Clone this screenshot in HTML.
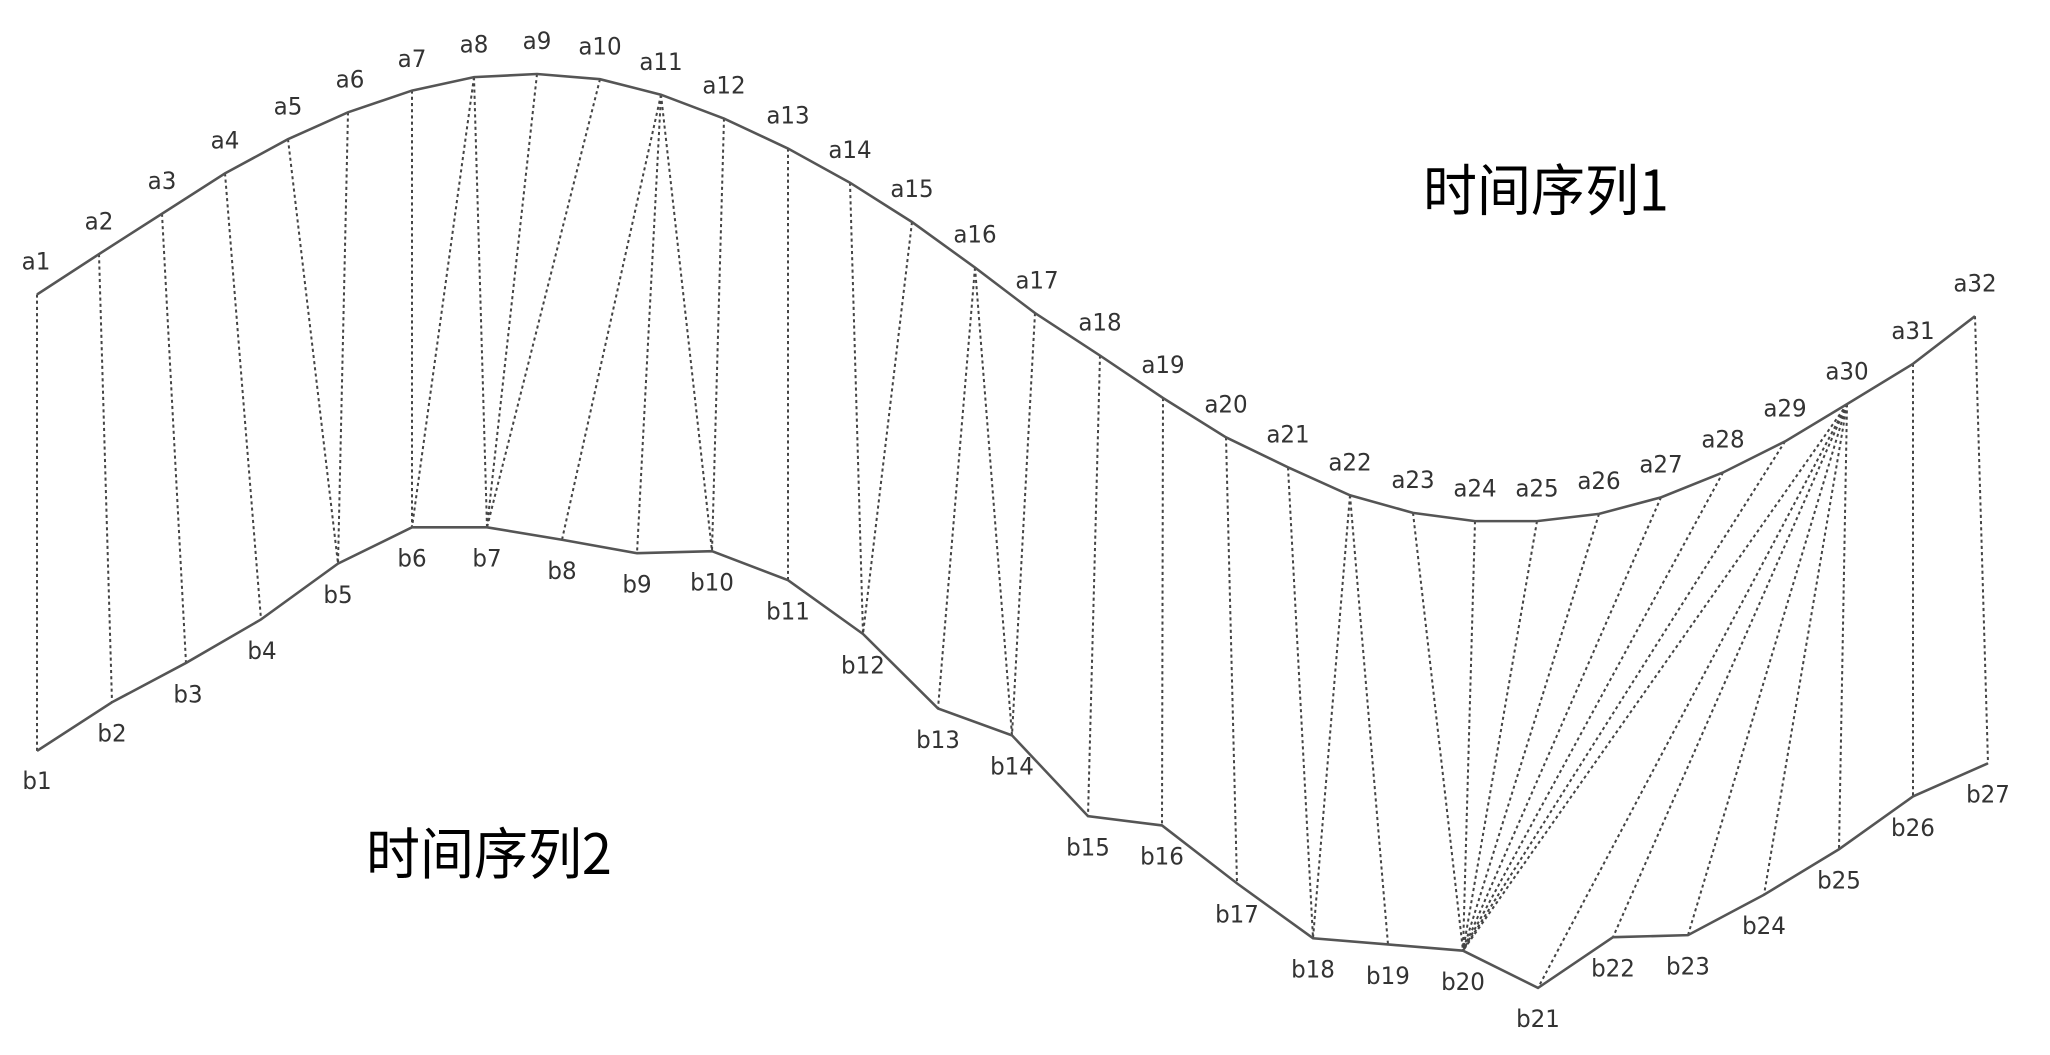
<!DOCTYPE html>
<html><head><meta charset="utf-8"><style>
html,body{margin:0;padding:0;background:#fff;}
svg{display:block;}
text{font-family:"DejaVu Sans","Liberation Sans",sans-serif;font-size:23px;fill:#333;}
.cn{font-family:"WenQuanYi Zen Hei","Noto Sans CJK SC",sans-serif;font-size:54px;fill:#000;}
</style></head><body>
<svg id="s" width="2050" height="1055" viewBox="0 0 2050 1055" xmlns="http://www.w3.org/2000/svg">
<g transform="matrix(1 0 0 1.035 0 -1.54)">
<g id="dash" stroke="#444" stroke-width="2" stroke-dasharray="3,3" fill="none"></g>
<path id="pa" stroke="#555" stroke-width="2.5" fill="none"/>
<path id="pb" stroke="#555" stroke-width="2.5" fill="none"/>
<text class="cn" x="1423" y="205">时间序列1</text>
<text class="cn" x="366" y="846">时间序列2</text>
<text x="36" y="262" text-anchor="middle">a1</text><text x="99" y="223" text-anchor="middle">a2</text><text x="162" y="184" text-anchor="middle">a3</text><text x="225" y="145" text-anchor="middle">a4</text><text x="288" y="112" text-anchor="middle">a5</text><text x="350" y="86" text-anchor="middle">a6</text><text x="412" y="66" text-anchor="middle">a7</text><text x="474" y="52" text-anchor="middle">a8</text><text x="537" y="49" text-anchor="middle">a9</text><text x="600" y="54" text-anchor="middle">a10</text><text x="661" y="69" text-anchor="middle">a11</text><text x="724" y="92" text-anchor="middle">a12</text><text x="788" y="121" text-anchor="middle">a13</text><text x="850" y="154" text-anchor="middle">a14</text><text x="912" y="192" text-anchor="middle">a15</text><text x="975" y="236" text-anchor="middle">a16</text><text x="1037" y="280" text-anchor="middle">a17</text><text x="1100" y="321" text-anchor="middle">a18</text><text x="1163" y="362" text-anchor="middle">a19</text><text x="1226" y="400" text-anchor="middle">a20</text><text x="1288" y="429" text-anchor="middle">a21</text><text x="1350" y="456" text-anchor="middle">a22</text><text x="1413" y="473" text-anchor="middle">a23</text><text x="1475" y="481" text-anchor="middle">a24</text><text x="1537" y="481" text-anchor="middle">a25</text><text x="1599" y="474" text-anchor="middle">a26</text><text x="1661" y="458" text-anchor="middle">a27</text><text x="1723" y="434" text-anchor="middle">a28</text><text x="1785" y="404" text-anchor="middle">a29</text><text x="1847" y="368" text-anchor="middle">a30</text><text x="1913" y="329" text-anchor="middle">a31</text><text x="1975" y="283" text-anchor="middle">a32</text>
<text x="37" y="764" text-anchor="middle">b1</text><text x="112" y="718" text-anchor="middle">b2</text><text x="188" y="680" text-anchor="middle">b3</text><text x="262" y="638" text-anchor="middle">b4</text><text x="338" y="584" text-anchor="middle">b5</text><text x="412" y="549" text-anchor="middle">b6</text><text x="487" y="549" text-anchor="middle">b7</text><text x="562" y="561" text-anchor="middle">b8</text><text x="637" y="574" text-anchor="middle">b9</text><text x="712" y="572" text-anchor="middle">b10</text><text x="788" y="600" text-anchor="middle">b11</text><text x="863" y="652" text-anchor="middle">b12</text><text x="938" y="724" text-anchor="middle">b13</text><text x="1012" y="750" text-anchor="middle">b14</text><text x="1088" y="828" text-anchor="middle">b15</text><text x="1162" y="837" text-anchor="middle">b16</text><text x="1237" y="893" text-anchor="middle">b17</text><text x="1313" y="946" text-anchor="middle">b18</text><text x="1388" y="952" text-anchor="middle">b19</text><text x="1463" y="958" text-anchor="middle">b20</text><text x="1538" y="994" text-anchor="middle">b21</text><text x="1613" y="945" text-anchor="middle">b22</text><text x="1688" y="943" text-anchor="middle">b23</text><text x="1764" y="904" text-anchor="middle">b24</text><text x="1839" y="860" text-anchor="middle">b25</text><text x="1913" y="809" text-anchor="middle">b26</text><text x="1988" y="777" text-anchor="middle">b27</text>
</g>
</svg>
<script>
var A=[[37,286],[99,247],[162,208],[225,169],[288,136],[348,110],[412,89],[474,76],[537,73],[600,78],[661,93],[724,116],[788,145],[850,178],[912,216],[975,260],[1035,304],[1100,345],[1163,386],[1226,424],[1288,453],[1350,480],[1413,497],[1475,505],[1537,505],[1599,498],[1661,482],[1723,458],[1785,428],[1847,392],[1913,353],[1975,307]];
var B=[[37,727],[112,680],[186,642],[261,600],[338,546],[412,511],[487,511],[562,523],[637,536],[712,534],[788,562],[863,614],[938,686],[1012,712],[1088,790],[1162,799],[1237,855],[1313,908],[1388,914],[1463,920],[1538,956],[1613,907],[1688,905],[1764,866],[1839,822],[1913,771],[1988,739]];
var C=[[1,1],[2,2],[3,3],[4,4],[5,5],[6,5],[7,6],[8,6],[8,7],[9,7],[10,7],[11,8],[11,9],[11,10],[12,10],[13,11],[14,12],[15,12],[16,13],[16,14],[17,14],[18,15],[19,16],[20,17],[21,18],[22,18],[22,19],[23,20],[24,20],[25,20],[26,20],[27,20],[28,20],[29,20],[30,20],[30,21],[30,22],[30,23],[30,24],[30,25],[31,26],[32,27]];
var ns="http://www.w3.org/2000/svg",g=document.getElementById("dash");
C.forEach(function(c){var a=A[c[0]-1],b=B[c[1]-1],l=document.createElementNS(ns,"line");l.setAttribute("x1",a[0]);l.setAttribute("y1",a[1]);l.setAttribute("x2",b[0]);l.setAttribute("y2",b[1]);g.appendChild(l);});
document.getElementById("pa").setAttribute("d","M"+A.map(function(p){return p.join(",")}).join(" L"));
document.getElementById("pb").setAttribute("d","M"+B.map(function(p){return p.join(",")}).join(" L"));
</script>
</body></html>
